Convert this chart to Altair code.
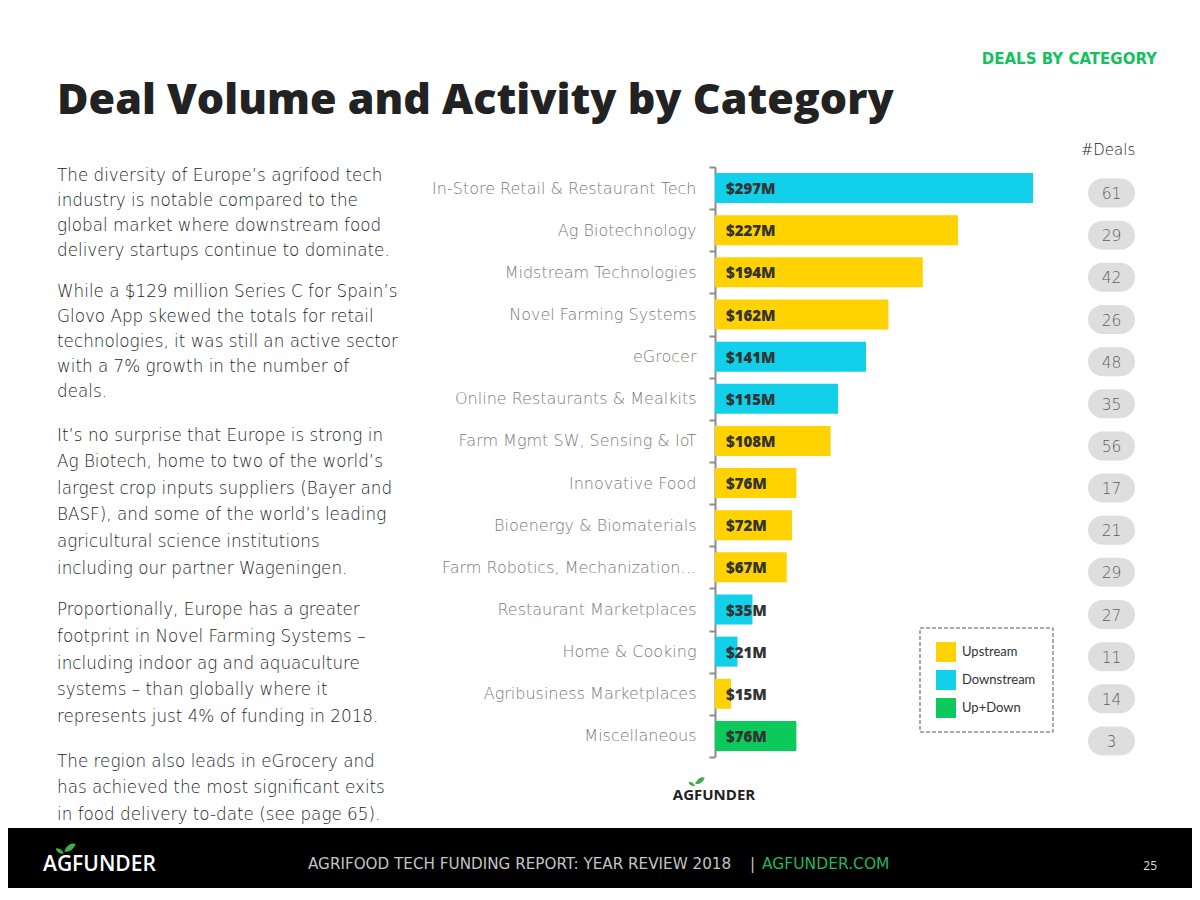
import altair as alt
import pandas as pd

# ---------------- data ----------------
categories = [
    "In-Store Retail & Restaurant Tech",
    "Ag Biotechnology",
    "Midstream Technologies",
    "Novel Farming Systems",
    "eGrocer",
    "Online Restaurants & Mealkits",
    "Farm Mgmt SW, Sensing & IoT",
    "Innovative Food",
    "Bioenergy & Biomaterials",
    "Farm Robotics, Mechanization…",
    "Restaurant Marketplaces",
    "Home & Cooking",
    "Agribusiness Marketplaces",
    "Miscellaneous",
]
funding_musd = [297, 227, 194, 162, 141, 115, 108, 76, 72, 67, 35, 21, 15, 76]
segment = ["Downstream", "Upstream", "Upstream", "Upstream", "Downstream", "Downstream",
           "Upstream", "Upstream", "Upstream", "Upstream", "Downstream", "Downstream",
           "Upstream", "Up+Down"]
deal_counts = [61, 29, 42, 26, 48, 35, 56, 17, 21, 29, 27, 11, 14, 3]

segment_names = ["Upstream", "Downstream", "Up+Down"]
segment_colors = ["#FFD200", "#12CFEA", "#0CC95C"]

title_text = "Deal Volume and Activity by Category"
kicker_text = "DEALS BY CATEGORY"
deals_header = "#Deals"

para1 = ["The diversity of Europe’s agrifood tech", "industry is notable compared to the",
         "global market where downstream food", "delivery startups continue to dominate."]
para2 = ["While a $129 million Series C for Spain’s", "Glovo App skewed the totals for retail",
         "technologies, it was still an active sector", "with a 7% growth in the number of", "deals."]
para3 = ["It’s no surprise that Europe is strong in", "Ag Biotech, home to two of the world’s",
         "largest crop inputs suppliers (Bayer and", "BASF), and some of the world’s leading",
         "agricultural science institutions", "including our partner Wageningen."]
para4 = ["Proportionally, Europe has a greater", "footprint in Novel Farming Systems –",
         "including indoor ag and aquaculture", "systems – than globally where it",
         "represents just 4% of funding in 2018."]
para5 = ["The region also leads in eGrocery and", "has achieved the most significant exits",
         "in food delivery to-date (see page 65)."]

footer_report = "AGRIFOOD TECH FUNDING REPORT: YEAR REVIEW 2018"
footer_sep = "|"
footer_site = "AGFUNDER.COM"
footer_logo = "AGFUNDER"
page_number = "25"

df = pd.DataFrame({
    "category": categories,
    "funding": funding_musd,
    "segment": segment,
    "deals": deal_counts,
})
df["label"] = ["$" + str(v) + "M" for v in funding_musd]

one = pd.DataFrame({"k": [0]})

W, H = 1184, 880
LIGHT = "Lato"
BODY = "DejaVu Sans"
LEAF = "M -1 0.6 C -0.6 -0.7 0.5 -1 1 -0.7 C 0.7 0.2 -0.1 0.8 -1 0.6 Z"

x_scale = alt.Scale(domain=[0, 297], range=[707, 1025], nice=False, zero=True)
y_scale = alt.Scale(domain=categories, range=[159, 749], paddingInner=0, paddingOuter=0)
y_pill = alt.Scale(domain=categories, range=[164, 754], paddingInner=0, paddingOuter=0)

# ---------------- layers ----------------
footer_band = alt.Chart(one).mark_rect(color="#000000").encode(
    x=alt.value(0), x2=alt.value(W), y=alt.value(820), y2=alt.value(H)
)

legend_box = alt.Chart(one).mark_rect(
    fill="#ffffff", stroke="#555555", strokeWidth=1, strokeDash=[4, 2]
).encode(x=alt.value(912), x2=alt.value(1045), y=alt.value(620), y2=alt.value(724))

bars = alt.Chart(df).mark_bar(height=30).encode(
    x=alt.X("funding:Q", scale=x_scale, axis=None),
    y=alt.Y("category:N", scale=y_scale, title=None,
            axis=alt.Axis(offset=-707, domainColor="#8c8c8c", domainWidth=2,
                          tickColor="#8c8c8c", tickWidth=2, tickSize=6, tickBand="extent",
                          labelFont=BODY, labelFontWeight=200, labelFontSize=16,
                          labelColor="#7a7a7a", labelPadding=13, labelLimit=400)),
    color=alt.Color("segment:N",
                    scale=alt.Scale(domain=segment_names, range=segment_colors),
                    legend=alt.Legend(title=None, orient="none", legendX=914, legendY=620,
                                      symbolType="square", symbolSize=400,
                                      symbolStrokeWidth=0, labelFont=LIGHT,
                                      labelFontSize=13, labelColor="#333333",
                                      labelOffset=6, rowPadding=8, padding=14)),
)

value_labels = alt.Chart(df).mark_text(
    align="left", baseline="middle", dx=11, dy=1, font="Open Sans", fontWeight=800,
    fontSize=15, color="#333333"
).encode(
    x=alt.datum(0),
    y=alt.Y("category:N", scale=y_scale, axis=None),
    text="label:N",
)

pills = alt.Chart(df).mark_bar(height=29, cornerRadius=14.5, color="#dedede").encode(
    x=alt.value(1080), x2=alt.value(1127),
    y=alt.Y("category:N", scale=y_pill, axis=None),
)

pill_text = alt.Chart(df).mark_text(
    align="center", baseline="middle", dy=1, font=BODY, fontWeight=200,
    fontSize=15.5, color="#5e5e5e"
).encode(
    x=alt.value(1103.5),
    y=alt.Y("category:N", scale=y_pill, axis=None),
    text="deals:Q",
)


def txt(text, x, y, **kw):
    return alt.Chart(one).mark_text(text=text, **kw).encode(x=alt.value(x), y=alt.value(y))


def leaf(x, y, size, angle):
    return alt.Chart(one).mark_point(shape=LEAF, filled=True, color="#3DAE49", opacity=1,
                                     size=size, angle=angle).encode(
        x=alt.value(x), y=alt.value(y))


title = txt(title_text, 49, 106, align="left", baseline="alphabetic", font="Open Sans",
            fontWeight=800, fontSize=43, color="#222222")
kicker = txt(kicker_text, 1149, 56, align="right", baseline="alphabetic", font=BODY,
             fontWeight=700, fontSize=15, color="#14C060")
header = txt(deals_header, 1100, 147, align="center", baseline="alphabetic", font=BODY,
             fontWeight=200, fontSize=15, color="#222222")

pkw = dict(align="left", baseline="alphabetic", font=BODY, fontWeight=200,
           fontSize=16.8, color="#1e1e1e")
p1 = txt(para1, 49, 173, lineHeight=25, **pkw)
p2 = txt(para2, 49, 288.5, lineHeight=25, **pkw)
p3 = txt(para3, 49, 432.5, lineHeight=26.6, **pkw)
p4 = txt(para4, 49, 607, lineHeight=26.8, **pkw)
p5 = txt(para5, 49, 758.5, lineHeight=26.6, **pkw)

small_logo = txt(footer_logo, 706, 792, align="center", baseline="alphabetic",
                 font="Open Sans", fontWeight=700, fontSize=15, color="#222222")
small_leaf1 = leaf(692, 773, 90, 0)
small_leaf2 = leaf(684, 776, 40, 250)
foot_logo = txt(footer_logo, 35, 863, align="left", baseline="alphabetic",
                font="Open Sans", fontWeight=600, fontSize=21, color="#ffffff")
foot_leaf1 = leaf(62, 840, 130, 0)
foot_leaf2 = leaf(52, 843, 60, 250)
foot_report = txt(footer_report, 300, 861, align="left", baseline="alphabetic",
                  font=BODY, fontWeight=400, fontSize=15.2, color="#c4c4c4")
foot_sep = txt(footer_sep, 742, 861, align="left", baseline="alphabetic",
               font=BODY, fontWeight=400, fontSize=15, color="#c4c4c4")
foot_site = txt(footer_site, 754, 861, align="left", baseline="alphabetic",
                font=BODY, fontWeight=400, fontSize=15.5, color="#1FB85E")
foot_page = txt(page_number, 1149, 862, align="right", baseline="alphabetic",
                font="Open Sans", fontWeight=400, fontSize=12, color="#dddddd")

chart = alt.layer(
    footer_band, legend_box, bars, value_labels, pills, pill_text,
    title, kicker, header, p1, p2, p3, p4, p5,
    small_logo, small_leaf1, small_leaf2, foot_logo, foot_leaf1, foot_leaf2,
    foot_report, foot_sep, foot_site, foot_page,
).resolve_scale(y="independent").properties(
    width=W, height=H, autosize=alt.AutoSizeParams(type="none"), padding=0,
    background="#ffffff",
).configure_view(stroke=None)

chart.save("out.html", embed_options={"renderer": "svg", "actions": False})
